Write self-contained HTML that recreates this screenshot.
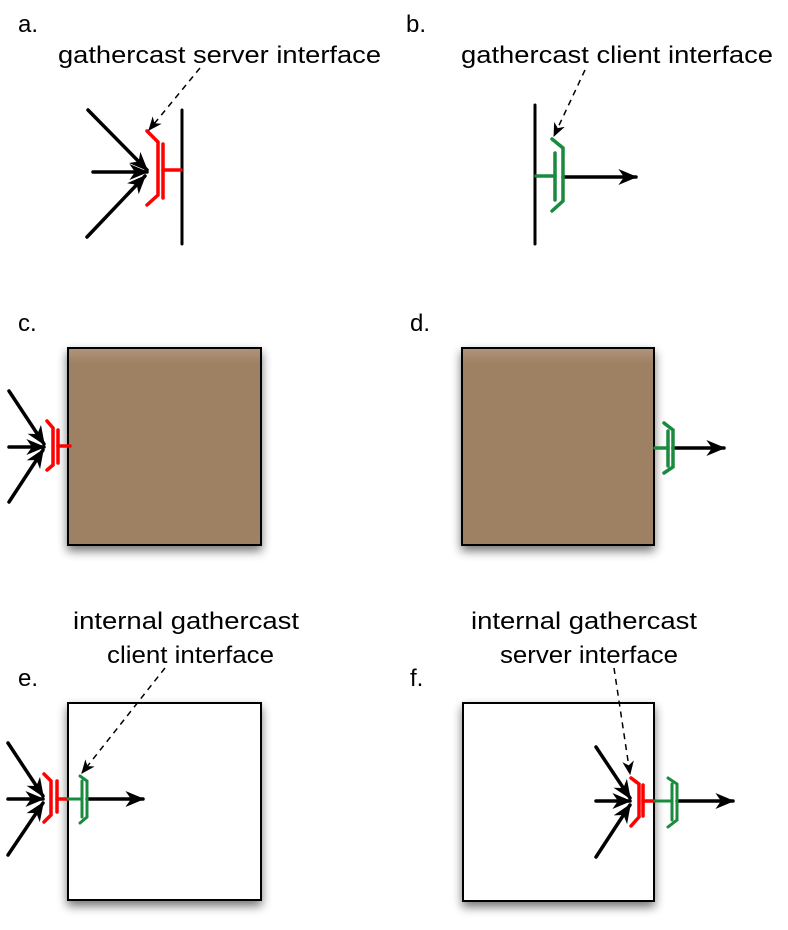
<!DOCTYPE html>
<html><head><meta charset="utf-8"><style>
html,body{margin:0;padding:0;background:#fff;}
svg{display:block;}
text{font-family:"Liberation Sans",Arial,sans-serif;font-size:24px;fill:#000;}
</style></head><body>
<svg width="788" height="930" viewBox="0 0 788 930" xmlns="http://www.w3.org/2000/svg">
<defs>
<marker id="s" viewBox="0 0 12 10" refX="11" refY="5" markerWidth="22" markerHeight="16" orient="auto" markerUnits="userSpaceOnUse">
<path d="M0,0 L12,5 L0,10 L3.5,5 z" fill="#000"/>
</marker>
<marker id="d" viewBox="0 0 12 10" refX="11" refY="5" markerWidth="14" markerHeight="12" orient="auto" markerUnits="userSpaceOnUse">
<path d="M0,0 L12,5 L0,10 L3.5,5 z" fill="#000"/>
</marker>
<filter id="sh" x="-20%" y="-20%" width="140%" height="140%">
<feGaussianBlur in="SourceAlpha" stdDeviation="5"/>
<feOffset dx="0" dy="5"/>
<feComponentTransfer><feFuncA type="linear" slope="0.55"/></feComponentTransfer>
<feMerge><feMergeNode/><feMergeNode in="SourceGraphic"/></feMerge>
</filter>
<linearGradient id="br" x1="0" y1="0" x2="0" y2="1">
<stop offset="0" stop-color="#b0957a"/><stop offset="0.08" stop-color="#9e8063"/><stop offset="1" stop-color="#9e8063"/>
</linearGradient>
</defs>

<text x="18" y="32">a.</text>
<text x="58" y="63" textLength="323" lengthAdjust="spacingAndGlyphs">gathercast server interface</text>
<text x="406" y="32">b.</text>
<text x="461" y="63" textLength="312" lengthAdjust="spacingAndGlyphs">gathercast client interface</text>
<text x="18" y="331">c.</text>
<text x="410" y="331">d.</text>
<text x="73" y="629" textLength="226" lengthAdjust="spacingAndGlyphs">internal gathercast</text>
<text x="107" y="663" textLength="167" lengthAdjust="spacingAndGlyphs">client interface</text>
<text x="18" y="686">e.</text>
<text x="410" y="686">f.</text>
<text x="471" y="629" textLength="226" lengthAdjust="spacingAndGlyphs">internal gathercast</text>
<text x="500" y="663" textLength="178" lengthAdjust="spacingAndGlyphs">server interface</text>

<rect x="68" y="348" width="193" height="197" fill="url(#br)" stroke="#000" stroke-width="2" filter="url(#sh)"/>
<rect x="462" y="348" width="192" height="197" fill="url(#br)" stroke="#000" stroke-width="2" filter="url(#sh)"/>
<rect x="68" y="703" width="193" height="197" fill="#fff" stroke="#000" stroke-width="2" filter="url(#sh)"/>
<rect x="463" y="703" width="191" height="198" fill="#fff" stroke="#000" stroke-width="2" filter="url(#sh)"/>

<g stroke-linecap="round" fill="none">
<line x1="182" y1="110" x2="182" y2="244" stroke="#000" stroke-width="3"/>
<g stroke="#000" stroke-width="3.5">
<line x1="88" y1="110" x2="147" y2="170" marker-end="url(#s)"/>
<line x1="93" y1="172" x2="147" y2="172" marker-end="url(#s)"/>
<line x1="87" y1="237" x2="145" y2="176" marker-end="url(#s)"/>
</g>
<g stroke="#f00" stroke-width="3.5">
<polyline points="147,131 158,142 158,195 147,205"/>
<line x1="163" y1="144" x2="163" y2="198"/>
<line x1="163" y1="170" x2="181" y2="170"/>
</g>
<line x1="200" y1="68" x2="149" y2="130" stroke="#000" stroke-width="1.5" stroke-dasharray="6,5" stroke-linecap="butt" marker-end="url(#d)"/>

<line x1="535" y1="105" x2="535" y2="244" stroke="#000" stroke-width="3"/>
<line x1="563" y1="177" x2="636" y2="177" stroke="#000" stroke-width="3.5" marker-end="url(#s)"/>
<g stroke="#1a8a3e" stroke-width="3.5">
<polyline points="552,139 563,148 563,201 552,211"/>
<line x1="555" y1="153" x2="555" y2="200"/>
<line x1="536" y1="176" x2="555" y2="176"/>
</g>
<line x1="585" y1="70" x2="554" y2="136" stroke="#000" stroke-width="1.5" stroke-dasharray="6,5" stroke-linecap="butt" marker-end="url(#d)"/>

<g stroke="#000" stroke-width="3.5">
<line x1="9" y1="391" x2="44" y2="444" marker-end="url(#s)"/>
<line x1="9" y1="447" x2="44" y2="447" marker-end="url(#s)"/>
<line x1="9" y1="502" x2="43" y2="450" marker-end="url(#s)"/>
</g>
<g stroke="#f00" stroke-width="3.5">
<polyline points="47,421 53,428 53,465 47,470"/>
<line x1="58" y1="430" x2="58" y2="463"/>
<line x1="58" y1="446" x2="70" y2="446"/>
</g>

<line x1="673" y1="448" x2="724" y2="448" stroke="#000" stroke-width="3.5" marker-end="url(#s)"/>
<g stroke="#1a8a3e" stroke-width="3.5">
<polyline points="664,423 673,430 673,467 664,473"/>
<line x1="668" y1="431" x2="668" y2="466"/>
<line x1="655" y1="448" x2="668" y2="448"/>
</g>

<g stroke="#000" stroke-width="3.5">
<line x1="8" y1="743" x2="43" y2="796" marker-end="url(#s)"/>
<line x1="8" y1="799" x2="43" y2="799" marker-end="url(#s)"/>
<line x1="8" y1="855" x2="43" y2="803" marker-end="url(#s)"/>
<line x1="87" y1="799" x2="143" y2="799" marker-end="url(#s)"/>
</g>
<g stroke="#f00" stroke-width="3.5">
<polyline points="44,774 51,781 51,815 44,822"/>
<line x1="57" y1="781" x2="57" y2="812"/>
<line x1="57" y1="799" x2="68" y2="799"/>
</g>
<g stroke="#1a8a3e" stroke-width="3">
<polyline points="80,776 87,781 87,817 80,823"/>
<line x1="82" y1="781" x2="82" y2="817"/>
<line x1="68" y1="799" x2="82" y2="799"/>
</g>
<line x1="165" y1="668" x2="82" y2="773" stroke="#000" stroke-width="1.5" stroke-dasharray="6,5" stroke-linecap="butt" marker-end="url(#d)"/>

<g stroke="#000" stroke-width="3.5">
<line x1="596" y1="747" x2="630" y2="798" marker-end="url(#s)"/>
<line x1="596" y1="801" x2="630" y2="801" marker-end="url(#s)"/>
<line x1="596" y1="857" x2="630" y2="805" marker-end="url(#s)"/>
<line x1="677" y1="801" x2="733" y2="801" marker-end="url(#s)"/>
</g>
<g stroke="#f00" stroke-width="3.5">
<polyline points="631,778 639,784 639,817 631,826"/>
<line x1="643" y1="785" x2="643" y2="816"/>
<line x1="643" y1="801" x2="655" y2="801"/>
</g>
<g stroke="#1a8a3e" stroke-width="3">
<polyline points="668,778 677,784 677,820 668,827"/>
<line x1="672" y1="784" x2="672" y2="820"/>
<line x1="655" y1="801" x2="672" y2="801"/>
</g>
<line x1="614" y1="668" x2="630" y2="774" stroke="#000" stroke-width="1.5" stroke-dasharray="6,5" stroke-linecap="butt" marker-end="url(#d)"/>
</g>
</svg>
</body></html>
